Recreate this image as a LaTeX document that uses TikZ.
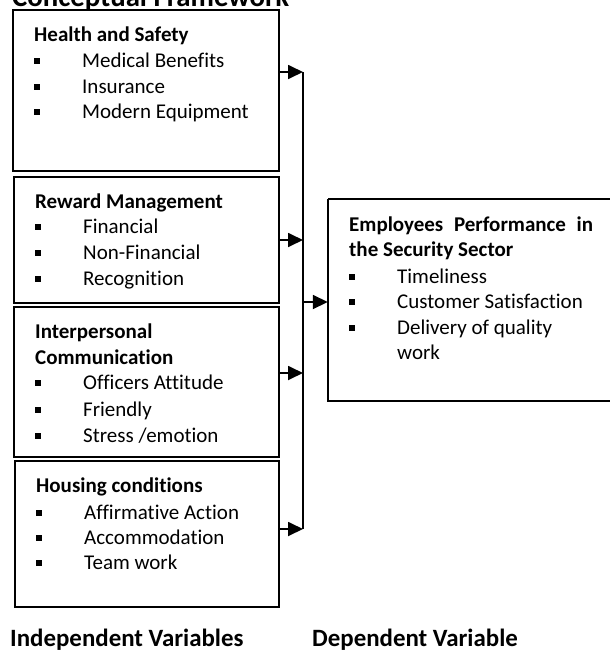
\documentclass[tikz,border=0pt]{standalone}
\usepackage{fontspec}
\setmainfont[Ligatures=NoCommon]{Carlito}
\usetikzlibrary{arrows.meta}
\newcommand{\bul}{\makebox[48pt][l]{\rule[3pt]{6pt}{6pt}}}
\tikzset{
  box/.style={draw, line width=1.5pt, rectangle, inner sep=0pt},
  hd/.style={anchor=base west, inner sep=0pt, font=\fontsize{21}{25}\selectfont\bfseries},
  itm/.style={anchor=base west, inner sep=0pt, font=\fontsize{21}{25}\selectfont},
  big/.style={anchor=base west, inner sep=0pt, font=\fontsize{24.9}{29}\selectfont\bfseries},
  ttl/.style={anchor=base west, inner sep=0pt, font=\fontsize{28.8}{33}\selectfont\bfseries},
  arr/.style={line width=1.8pt, -{Triangle[length=15pt,width=14pt]}},
  trunk/.style={line width=1.8pt}
}
\begin{document}
\begin{tikzpicture}[x=1pt,y=-1pt]
\useasboundingbox (0,0) rectangle (610,654);
% title (cut off at top)
\node[ttl] (title) at (12,6.5) {Conceptual Framework};
% boxes
\draw[box] (13,10) rectangle (279,171);
\node[minimum width=266pt, minimum height=161pt, inner sep=0pt] (b1) at (146,90.5) {};
\draw[box] (14,177) rectangle (279,303);
\node[minimum width=265pt, minimum height=126pt, inner sep=0pt] (b2) at (146.5,240) {};
\draw[box] (14,307) rectangle (279,457);
\node[minimum width=265pt, minimum height=150pt, inner sep=0pt] (b3) at (146.5,382) {};
\draw[box] (15,461) rectangle (279,607);
\node[minimum width=264pt, minimum height=146pt, inner sep=0pt] (b4) at (147,534) {};
\draw[box] (328,199) -- (615,199);
\draw[box] (615,401) -- (328,401) -- (328,199);
\node[minimum width=287pt, minimum height=202pt, inner sep=0pt] (r) at (471.5,300) {};
% box 1
\node[hd] (h1) at (34,41) {Health and Safety};
\node[itm] (h1a) at (34,67) {\bul Medical Benefits};
\node[itm] (h1b) at (34,93) {\bul Insurance};
\node[itm] (h1c) at (34,118) {\bul Modern Equipment};
% box 2
\node[hd] (h2) at (35,208) {Reward Management};
\node[itm] (h2a) at (35,233) {\bul Financial};
\node[itm] (h2b) at (35,259) {\bul Non-Financial};
\node[itm] (h2c) at (35,285) {\bul Recognition};
% box 3
\node[hd] (h3) at (35,338) {Interpersonal};
\node[hd] (h3x) at (35,364) {Communication};
\node[itm] (h3a) at (35,389) {\bul Officers Attitude};
\node[itm] (h3b) at (35,416) {\bul Friendly};
\node[itm] (h3c) at (35,442) {\bul Stress /emotion};
% box 4
\node[hd] (h4) at (36,492) {Housing conditions};
\node[itm] (h4a) at (36,519) {\bul Affirmative Action};
\node[itm] (h4b) at (36,544) {\bul Accommodation};
\node[itm] (h4c) at (36,569) {\bul Team work};
% right box
\node[hd] (hr) at (349,231) {\makebox[244pt][s]{Employees Performance in}};
\node[hd] (hrx) at (349,256) {the Security Sector};
\node[itm] (ra) at (349,283) {\bul Timeliness};
\node[itm] (rb) at (349,308) {\bul Customer Satisfaction};
\node[itm] (rc) at (349,334) {\bul Delivery of quality};
\node[itm] (rd) at (397,359) {work};
% connectors
\coordinate (j1) at (303,72);
\coordinate (j2) at (303,240);
\coordinate (j3) at (303,373);
\coordinate (j4) at (303,529);
\coordinate (jc) at (303,302);
\draw[trunk] (j1) -- (j4);
\draw[arr] (b1.east |- j1) -- (j1);
\draw[arr] (b2.east |- j2) -- (j2);
\draw[arr] (b3.east |- j3) -- (j3);
\draw[arr] (b4.east |- j4) -- (j4);
\draw[arr] (jc) -- (r.west |- jc);
% bottom labels
\node[big] (iv) at (10,646) {Independent Variables};
\node[big] (dv) at (312,646) {Dependent Variable};
\end{tikzpicture}
\end{document}
